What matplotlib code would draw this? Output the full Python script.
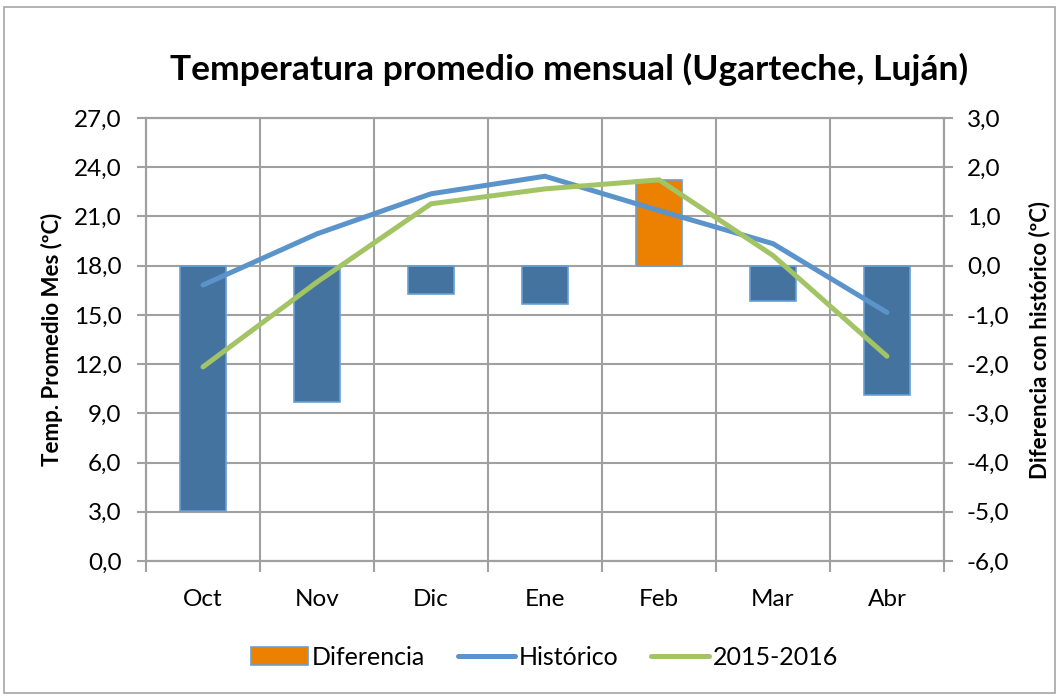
import matplotlib.pyplot as plt
from matplotlib.patches import Patch, Rectangle
from matplotlib.lines import Line2D
from matplotlib.ticker import FuncFormatter
import numpy as np

meses = ['Oct', 'Nov', 'Dic', 'Ene', 'Feb', 'Mar', 'Abr']
historico = [16.82, 19.94, 22.38, 23.45, 21.36, 19.34, 15.15]
temporada = [11.83, 17.0, 21.77, 22.68, 23.23, 18.62, 12.48]
diferencia = [-4.98, -2.77, -0.57, -0.77, 1.75, -0.72, -2.62]

plt.rcParams['font.family'] = ['Lato', 'DejaVu Sans']

c_bar = '#44739F'
c_edge = '#6A9FD3'
c_pos = '#EC8000'
c_hist = '#5B93CB'
c_temp = '#A2C465'
c_grid = '#A0A0A0'

fig = plt.figure(figsize=(10.61, 6.97), dpi=100)
fig.patches.append(Rectangle((0.004, 0.006), 0.99, 0.984, transform=fig.transFigure,
                             fill=False, edgecolor='#A6A6A6', lw=1.2))

# ax: barras (eje derecho), ax2: temperaturas (eje izquierdo)
ax = fig.add_axes([0.1376, 0.1951, 0.7521, 0.6356])
ax2 = ax.twinx()
ax.set_zorder(1)
ax2.set_zorder(2)
ax2.patch.set_visible(False)

x = np.arange(len(meses))
colores = [c_pos if d > 0 else c_bar for d in diferencia]
ax.bar(x, diferencia, width=0.41, color=colores, edgecolor=c_edge, linewidth=1.2, zorder=3)
ax.set_ylim(-6, 3)
ax.set_yticks(np.arange(-6, 3.01, 1))
ax.set_xlim(-0.5, len(meses) - 0.5)
ax.set_xticks(x)
ax.set_xticklabels(meses)
ax.set_xticks(np.arange(-0.5, len(meses), 1), minor=True)
ax.grid(True, which='minor', axis='x', color=c_grid, lw=1.5)
ax.grid(True, which='major', axis='y', color=c_grid, lw=1.5)
ax.set_axisbelow(True)
ax.yaxis.tick_right()
ax.yaxis.set_label_position('right')

ax2.plot(x, historico, color=c_hist, lw=3.6, solid_capstyle='round', solid_joinstyle='miter')
ax2.plot(x, temporada, color=c_temp, lw=3.6, solid_capstyle='round', solid_joinstyle='miter')
ax2.set_ylim(0, 27)
ax2.set_yticks(np.arange(0, 27.01, 3))
ax2.yaxis.tick_left()
ax2.yaxis.set_label_position('left')

fmt = FuncFormatter(lambda v, p: ('%.1f' % v).replace('.', ','))
ax.yaxis.set_major_formatter(fmt)
ax2.yaxis.set_major_formatter(fmt)

for a in (ax, ax2):
    for s in a.spines.values():
        s.set_color(c_grid)
        s.set_linewidth(1.5)
ax.tick_params(axis='x', which='major', length=0, pad=20, labelsize=17.5)
ax.tick_params(axis='x', which='minor', length=8, width=1.5, color=c_grid)
ax.tick_params(axis='y', length=6.5, width=1.5, color=c_grid, labelsize=17.5, pad=10)
ax2.tick_params(axis='y', length=6.5, width=1.5, color=c_grid, labelsize=17.5, pad=11)

ax2.set_ylabel('Temp. Promedio Mes (ºC)', fontsize=16, fontweight='bold', labelpad=8)
ax.set_ylabel('Diferencia con histórico (ºC)', fontsize=16, fontweight='bold', labelpad=14)

fig.text(0.536, 0.9, 'Temperatura promedio mensual (Ugarteche, Luján)',
         ha='center', va='center', fontsize=25.5, fontweight='bold')

handles = [Patch(facecolor=c_pos, edgecolor=c_edge, lw=1.2),
           Line2D([0], [0], color=c_hist, lw=3.6, solid_capstyle='round'),
           Line2D([0], [0], color=c_temp, lw=3.6, solid_capstyle='round')]
fig.legend(handles, ['Diferencia', 'Histórico', '2015-2016'], loc='center',
           bbox_to_anchor=(0.513, 0.057), ncol=3, frameon=False, fontsize=18,
           handlelength=2.3, handletextpad=0.15, columnspacing=1.3)

fig.savefig('out.png', dpi=100)
